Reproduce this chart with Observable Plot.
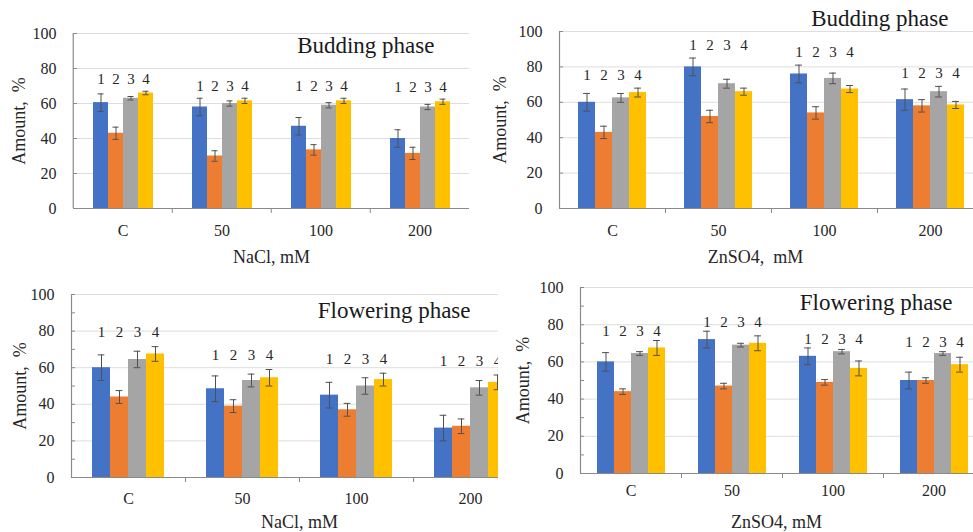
<!DOCTYPE html>
<html>
<head>
<meta charset="utf-8">
<script src="https://cdn.jsdelivr.net/npm/d3@7"></script>
<script src="https://cdn.jsdelivr.net/npm/@observablehq/plot@0.6"></script>
<style>
html, body { margin: 0; padding: 0; background: #fff; overflow: hidden; }
#root { position: relative; width: 973px; height: 532px; overflow: hidden; background: #fff; }
.panel { position: absolute; background: #fff; overflow: hidden; }
.panel svg { max-width: none !important; }
.panel svg, .panel svg text { font-family: 'Liberation Serif', 'Times New Roman', serif !important; }
</style>
</head>
<body>
<div id="root"></div>
<script>
// ---------- data ----------
const groups = ["C", "50", "100", "200"];
const series = ["1", "2", "3", "4"];
const colors = ["#4472C4", "#ED7D31", "#A5A5A5", "#FFC000"];
const yTicks = [0, 20, 40, 60, 80, 100];
const yMinorTicks = [10, 30, 50, 70, 90];

// NaCl, budding phase (rows = series 1..4, columns = C, 50, 100, 200)
const naclBudValues = [
  [60.5, 58, 47, 40],
  [43, 30, 33.5, 31.5],
  [63, 60, 59, 58],
  [66, 61.5, 61.5, 61]
];
const naclBudErrors = [
  [5, 5, 5, 5],
  [3.5, 3, 3, 3.5],
  [1, 1.5, 1.5, 1.5],
  [1, 1.5, 1.5, 1.5]
];

// ZnSO4, budding phase
const znBudValues = [
  [60, 80, 76, 61.5],
  [43, 52, 54, 58],
  [62.5, 70.5, 73.5, 66],
  [65.5, 66, 67.5, 58.5]
];
const znBudErrors = [
  [5, 5, 5, 6],
  [3.5, 3.5, 3.5, 3.5],
  [2.5, 2.5, 3, 3],
  [2.5, 2, 2, 2]
];

// NaCl, flowering phase
const naclFlowValues = [
  [60, 48.5, 45, 27],
  [44, 39, 37, 28],
  [64.5, 53, 50, 49],
  [67.5, 54.5, 53.5, 52]
];
const naclFlowErrors = [
  [7, 7, 7, 7],
  [3.5, 3.5, 3.5, 4],
  [4.5, 3.5, 4.5, 4],
  [4, 4.5, 3.5, 4]
];

// ZnSO4, flowering phase
const znFlowValues = [
  [60, 72, 63, 50],
  [44, 47, 49, 50],
  [64.5, 69, 65.5, 64.5],
  [67.5, 70, 56.5, 58.5]
];
const znFlowErrors = [
  [5, 4.5, 4.5, 4.5],
  [1.5, 1.5, 1.5, 1.5],
  [1, 1, 1.2, 1],
  [4, 4, 4, 4]
];

const yLabelText = "Amount,  %";

// ---------- drawing ----------
const font = "'Liberation Serif','Times New Roman',serif";
const ink = "#262626";
const axisColor = "#8a8a8a";
const gridColor = "#dedede";
const errColor = "#505050";
const root = document.getElementById("root");

function drawPanel(cfg) {
  const {values, errors, title, xLabel, box, m, pad, tickPad, yLabDx, xLabDx, xLabDy,
         titleDx, titleDy, numDy, minor} = cfg;
  const rows = [];
  groups.forEach((g, gi) => series.forEach((s, si) =>
    rows.push({g, s, v: values[si][gi], e: errors[si][gi]})));
  const tops = new Map(groups.map((g, gi) =>
    [g, d3.max(series, (s, si) => values[si][gi] + errors[si][gi])]));
  const cw = (box.width - m.left - m.right) / groups.length;
  const bw = cw / (series.length + 2 * pad);
  const capInset = Math.max(0, (bw - 7) / 2);

  const marks = [
    Plot.gridY(yTicks.filter(t => t > 0), {stroke: gridColor, strokeOpacity: 1}),
    Plot.barY(rows, {fx: "g", x: "s", y: "v", fill: "s"}),
    Plot.ruleX(rows, {fx: "g", x: "s", y1: d => d.v - d.e, y2: d => d.v + d.e, stroke: errColor, strokeWidth: 1}),
    Plot.tickY(rows, {fx: "g", x: "s", y: d => d.v + d.e, insetLeft: capInset, insetRight: capInset, stroke: errColor, strokeWidth: 1}),
    Plot.tickY(rows, {fx: "g", x: "s", y: d => d.v - d.e, insetLeft: capInset, insetRight: capInset, stroke: errColor, strokeWidth: 1}),
    Plot.ruleY([0], {stroke: axisColor, strokeWidth: 1.2}),
    // y axis line
    Plot.ruleX([{g: groups[0]}], {fx: "g", x: null, dx: -cw / 2, stroke: axisColor, strokeWidth: 1.2}),
    // category divider ticks
    Plot.ruleX(groups.slice(1).map(g => ({g})), {fx: "g", x: null, dx: -cw / 2, y1: 0, y2: 0, insetTop: 0, insetBottom: -5, stroke: axisColor, strokeWidth: 1}),
    Plot.axisY(yTicks, {tickSize: -4, tickPadding: 21, fontSize: 16, fill: ink, stroke: axisColor, label: null}),
    Plot.axisFx({anchor: "bottom", tickSize: 0, tickPadding: tickPad, fontSize: 16, fill: ink, label: null}),
    Plot.text(rows, {fx: "g", x: "s", y: d => tops.get(d.g), text: "s", dy: -numDy, fontSize: 15, fill: ink, lineAnchor: "middle"}),
    Plot.text([{g: groups[3], t: title}], {fx: "g", frameAnchor: "top-right", text: "t", textAnchor: "end", lineAnchor: "middle", dx: titleDx, dy: titleDy, fontSize: 23, fill: "#1a1a1a"}),
    Plot.text([{g: groups[0], t: yLabelText}], {fx: "g", frameAnchor: "left", text: "t", rotate: -90, textAnchor: "middle", lineAnchor: "middle", dx: yLabDx, fontSize: 18, fill: ink}),
    Plot.text([{g: groups[2], t: xLabel}], {fx: "g", frameAnchor: "bottom-left", text: "t", textAnchor: "middle", lineAnchor: "middle", dx: xLabDx, dy: xLabDy, fontSize: 18, fill: ink})
  ];
  if (minor) {
    marks.push(Plot.axisY(yMinorTicks, {tickSize: -4, tickFormat: () => "", stroke: axisColor, label: null}));
  }

  const chart = Plot.plot({
    width: box.width,
    height: box.height,
    marginLeft: m.left, marginRight: m.right, marginTop: m.top, marginBottom: m.bottom,
    style: {fontFamily: font, background: "transparent", color: ink, overflow: "visible"},
    fx: {domain: groups, padding: 0},
    x: {domain: series, paddingInner: 0, paddingOuter: pad, axis: null},
    y: {domain: [0, 100]},
    color: {domain: series, range: colors},
    marks
  });
  const div = document.createElement("div");
  div.className = "panel";
  Object.assign(div.style, {left: box.left + "px", top: box.top + "px", width: box.width + "px", height: box.height + "px"});
  div.append(chart);
  root.append(div);
}

drawPanel({
  values: naclBudValues, errors: naclBudErrors, title: "Budding phase", xLabel: "NaCl, mM",
  box: {left: 0, top: 0, width: 480, height: 270},
  m: {left: 72, right: 10, top: 33, bottom: 62},
  pad: 1.11, tickPad: 16, yLabDx: -54, xLabDx: 0, xLabDy: 49, titleDx: -35, titleDy: 12, numDy: 12, minor: false
});
drawPanel({
  values: znBudValues, errors: znBudErrors, title: "Budding phase", xLabel: "ZnSO4,  mM",
  box: {left: 480, top: 0, width: 513, height: 270},
  m: {left: 79, right: 10, top: 31, bottom: 62},
  pad: 1.1, tickPad: 16, yLabDx: -59, xLabDx: -16, xLabDy: 49, titleDx: -35, titleDy: -13, numDy: 13, minor: false
});
drawPanel({
  values: naclFlowValues, errors: naclFlowErrors, title: "Flowering phase", xLabel: "NaCl, mM",
  box: {left: 0, top: 270, width: 537, height: 262},
  m: {left: 71, right: 10, top: 24, bottom: 55},
  pad: 1.12, tickPad: 15, yLabDx: -51, xLabDx: 0, xLabDy: 45, titleDx: -57, titleDy: 16, numDy: 14, minor: true
});
drawPanel({
  values: znFlowValues, errors: znFlowErrors, title: "Flowering phase", xLabel: "ZnSO4, mM",
  box: {left: 498, top: 270, width: 500, height: 262},
  m: {left: 82, right: 14, top: 17, bottom: 59},
  pad: 0.95, tickPad: 11, yLabDx: -57, xLabDx: -6, xLabDy: 49, titleDx: -32, titleDy: 15, numDy: 9, minor: true
});
</script>
</body>
</html>
